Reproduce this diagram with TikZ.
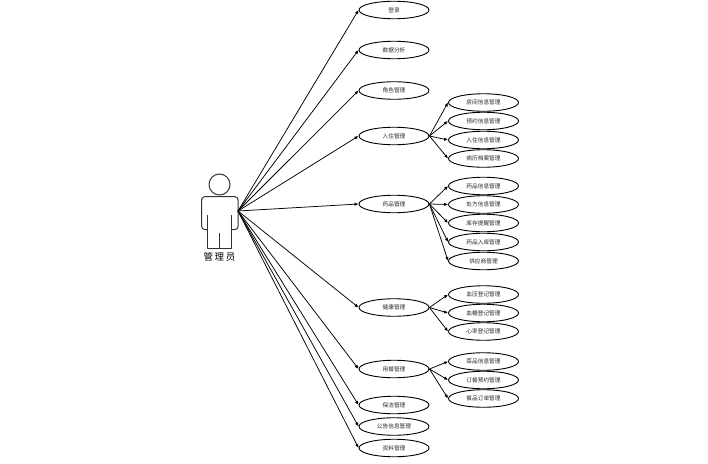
\documentclass[tikz,border=0pt]{standalone}
\usepackage{fontspec}
\setmainfont{Noto Sans CJK SC}
\usetikzlibrary{arrows.meta,shapes.geometric}
\tikzset{
 usecase/.style={draw,ellipse,line width=0.9pt,inner sep=0pt,minimum width=70pt,minimum height=17.5pt,font=\fontsize{5.7pt}{6pt}\selectfont,text=black!85},
 assoc/.style={-{Latex[length=4pt,width=3.4pt]},line width=0.75pt},
 actorline/.style={line width=1pt,draw=black!80,line join=round},
 actorlabel/.style={inner sep=0pt,font=\fontsize{9.5pt}{10pt}\selectfont}
}
\begin{document}
\begin{tikzpicture}[x=1pt,y=-1pt]
\useasboundingbox (0,0) rectangle (708,463);
% actor
\draw[actorline] (219.5,184.5) circle (10.5);
\draw[actorline,rounded corners=3pt] (207.3,229.5) -- (201.7,229.5) -- (201.7,196.7) -- (238,196.7) -- (238,229.5) -- (231.7,229.5);
\draw[actorline] (207.3,215) -- (207.3,248.5) -- (231.7,248.5) -- (231.7,215);
\draw[actorline] (219.5,233) -- (219.5,248.5);
\node[actorlabel] (actorname) at (219.5,257) {管\,理\,员};
\coordinate (actor) at (238,211);
% first level
\node[usecase] (a1) at (394,10) {登录};
\node[usecase] (a2) at (394,50) {数据分析};
\node[usecase] (a3) at (394,90.5) {角色管理};
\node[usecase] (a4) at (394,136) {入住管理};
\node[usecase] (a5) at (394,204) {药品管理};
\node[usecase] (a6) at (394,307.5) {健康管理};
\node[usecase] (a7) at (394,369) {用餐管理};
\node[usecase] (a8) at (394,405) {保洁管理};
\node[usecase] (a9) at (394,426.5) {公告信息管理};
\node[usecase] (a10) at (394,448) {资料管理};
% second level
\node[usecase] (b1) at (483.5,102.5) {房间信息管理};
\node[usecase] (b2) at (483.5,121) {预约信息管理};
\node[usecase] (b3) at (483.5,140) {入住信息管理};
\node[usecase] (b4) at (483.5,158.5) {病历档案管理};
\node[usecase] (c1) at (483.5,186) {药品信息管理};
\node[usecase] (c2) at (483.5,204.5) {处方信息管理};
\node[usecase] (c3) at (483.5,223) {库存提醒管理};
\node[usecase] (c4) at (483.5,242) {药品入库管理};
\node[usecase] (c5) at (483.5,261) {供应商管理};
\node[usecase] (d1) at (483.5,294.5) {血压登记管理};
\node[usecase] (d2) at (483.5,313) {血糖登记管理};
\node[usecase] (d3) at (483.5,331.5) {心率登记管理};
\node[usecase] (e1) at (483.5,361.5) {菜品信息管理};
\node[usecase] (e2) at (483.5,380) {订餐预约管理};
\node[usecase] (e3) at (483.5,398.5) {餐品订单管理};
% connectors
\foreach \t in {a1,a2,a3,a4,a5,a6,a7,a8,a9,a10} \draw[assoc] (actor) -- (\t.west);
\foreach \t in {b1,b2,b3,b4} \draw[assoc] (a4.east) -- (\t.west);
\foreach \t in {c1,c2,c3,c4,c5} \draw[assoc] (a5.east) -- (\t.west);
\foreach \t in {d1,d2,d3} \draw[assoc] (a6.east) -- (\t.west);
\foreach \t in {e1,e2,e3} \draw[assoc] (a7.east) -- (\t.west);
\end{tikzpicture}
\end{document}
